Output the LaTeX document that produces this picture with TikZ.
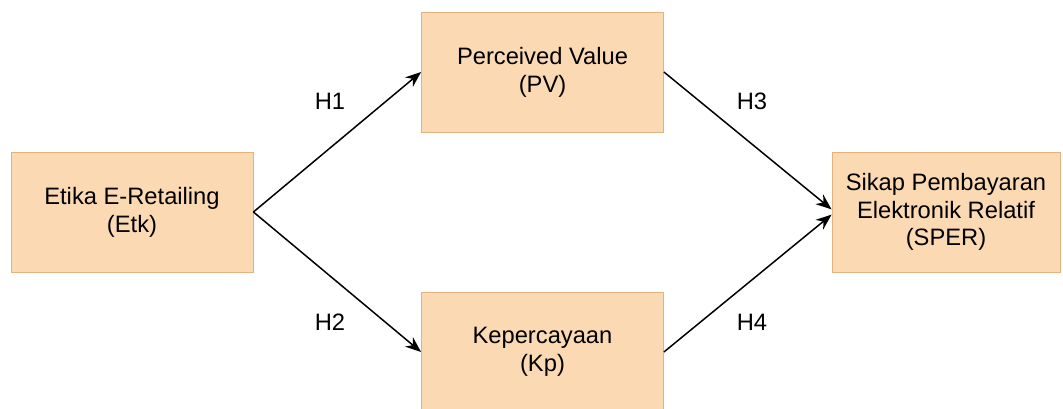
\documentclass[tikz,border=0pt]{standalone}
\usepackage{fontspec}
\setmainfont{Liberation Sans}
\usetikzlibrary{arrows.meta}

\definecolor{orangefond}{HTML}{FBD9B3}
\definecolor{orangebord}{HTML}{E3B27E}

\begin{document}
\begin{tikzpicture}[x=0.02cm, y=-0.02cm]
  %tikz%
  % Modele de recherche, hypotheses H1 a H4
  %tikz%
    \tikzset{boite/.style={draw=orangebord, fill=orangefond, line width=0.5pt,
        minimum width=4.84cm, minimum height=2.4cm, align=center,
        font=\fontsize{13.5}{15.8}\selectfont},
      fleche/.style={-{Stealth[length=9pt, width=7pt]}, line width=0.85pt, black},
      hyp/.style={font=\fontsize{13.5}{15.8}\selectfont}}

    \useasboundingbox (0,0) rectangle (1063,409);

    \node[boite] (etk) at (132, 212) {Etika E-Retailing\\(Etk)};
    \node[boite] (pv) at (542.5, 72) {Perceived Value\\(PV)};
    \node[boite] (kp) at (542.5, 352) {Kepercayaan\\(Kp)};
    \node[boite, minimum width=4.56cm] (sper) at (946, 212)
      {Sikap Pembayaran\\Elektronik Relatif\\(SPER)};

    \draw[fleche] (etk.east) -- (pv.west);
    \draw[fleche] (etk.east) -- (kp.west);
    \draw[fleche] (pv.east) -- ([yshift=1.5pt]sper.west);
    \draw[fleche] (kp.east) -- ([yshift=-1.5pt]sper.west);

    \node[hyp] (h1) at (330, 101) {H1};
    \node[hyp] (h2) at (330, 322) {H2};
    \node[hyp] (h3) at (752, 101) {H3};
    \node[hyp] (h4) at (752, 322) {H4};

  \end{tikzpicture}
\end{document}
